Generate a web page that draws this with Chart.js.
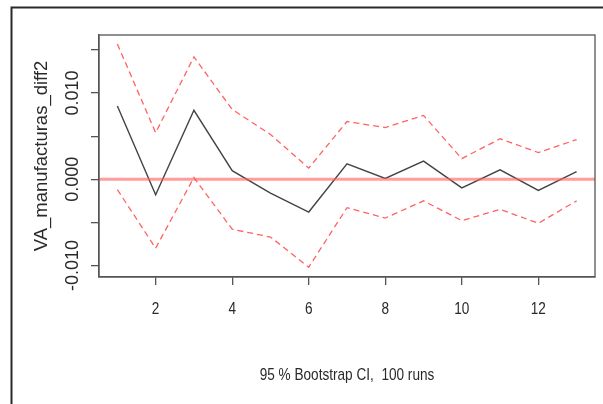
<!DOCTYPE html>
<html>
<head>
<meta charset="utf-8">
<script src="https://cdn.jsdelivr.net/npm/chart.js@4/dist/chart.umd.min.js"></script>
<style>
  html, body { margin: 0; padding: 0; background: #fff; }
  canvas { display: block; }
</style>
</head>
<body>
<canvas id="bootChart" width="603" height="404"></canvas>
<script>
// datos
const steps = [1, 2, 3, 4, 5, 6, 7, 8, 9, 10, 11, 12, 13];
const estimate = [0.0085, -0.0018, 0.0080, 0.0010, -0.0016, -0.0038, 0.0018, 0.0001, 0.0021, -0.0010, 0.0011, -0.0013, 0.0009];
const upperCI = [0.0157, 0.0054, 0.0142, 0.0081, 0.0052, 0.0013, 0.0067, 0.0060, 0.0074, 0.0024, 0.0047, 0.0031, 0.0046];
const lowerCI = [-0.0012, -0.0080, 0.0002, -0.0058, -0.0067, -0.0102, -0.0033, -0.0045, -0.0025, -0.0048, -0.0035, -0.0051, -0.0025];
const zeroLine = 0;

const xTicks = [2, 4, 6, 8, 10, 12];
const yTicks = [-0.010, -0.005, 0.000, 0.005, 0.010, 0.015];
const yTickLabels = ['-0.010', '', '0.000', '', '0.010', ''];

const yTitle = 'VA_manufacturas_diff2';
const xTitle = '95 % Bootstrap CI,  100 runs';

const toPoints = vals => vals.map((v, i) => ({ x: steps[i], y: v }));

// texto horizontal algo comprimido, como en la imagen original
function narrowText(ctx, txt, x, y) {
  ctx.save();
  ctx.translate(x, y);
  ctx.scale(0.8, 1);
  ctx.fillText(txt, 0, 0);
  ctx.restore();
}

// Plugin para marco, linea cero y textos de los ejes
const rPlot = {
  id: 'rPlot',
  beforeDraw(chart) {
    const ctx = chart.ctx;
    ctx.save();
    ctx.strokeStyle = '#2a2a2a';
    ctx.lineWidth = 2;
    ctx.beginPath();
    ctx.moveTo(11.5, 404);
    ctx.lineTo(11.5, 7.5);
    ctx.lineTo(603, 7.5);
    ctx.stroke();
    ctx.restore();
  },
  afterDatasetsDraw(chart) {
    const { ctx, chartArea: a, scales: { x, y } } = chart;
    ctx.save();
    // linea horizontal en cero
    const y0 = y.getPixelForValue(zeroLine);
    ctx.strokeStyle = 'rgba(255, 90, 90, 0.6)';
    ctx.lineWidth = 3;
    ctx.beginPath();
    ctx.moveTo(a.left, y0);
    ctx.lineTo(a.right, y0);
    ctx.stroke();
    // caja del grafico
    ctx.strokeStyle = '#555';
    ctx.lineWidth = 1.3;
    ctx.strokeRect(a.left, a.top, a.right - a.left, a.bottom - a.top);

    ctx.fillStyle = '#2a2a2a';
    ctx.textAlign = 'center';
    ctx.textBaseline = 'middle';
    // etiquetas del eje x
    ctx.font = '17px "Liberation Sans", Arial, sans-serif';
    xTicks.forEach(v => narrowText(ctx, String(v), x.getPixelForValue(v), 309));
    ctx.font = '17px "Liberation Sans", Arial, sans-serif';
    narrowText(ctx, xTitle, (a.left + a.right) / 2, 375);

    // etiquetas del eje y (rotadas)
    ctx.font = '18px "Liberation Sans", Arial, sans-serif';
    yTicks.forEach((v, i) => {
      if (!yTickLabels[i]) return;
      ctx.save();
      ctx.translate(73, y.getPixelForValue(v));
      ctx.rotate(-Math.PI / 2);
      ctx.fillText(yTickLabels[i], 0, 0);
      ctx.restore();
    });
    ctx.font = '18.5px "Liberation Sans", Arial, sans-serif';
    ctx.save();
    ctx.translate(42, (a.top + a.bottom) / 2);
    ctx.rotate(-Math.PI / 2);
    ctx.fillText(yTitle, 0, 0);
    ctx.restore();
    ctx.restore();
  }
};

new Chart(document.getElementById('bootChart'), {
  type: 'line',
  data: {
    datasets: [
      {
        label: 'upper',
        data: toPoints(upperCI),
        borderColor: 'rgba(255, 70, 70, 0.85)',
        borderDash: [6, 4],
        borderWidth: 1.3,
        pointRadius: 0,
        tension: 0
      },
      {
        label: 'lower',
        data: toPoints(lowerCI),
        borderColor: 'rgba(255, 70, 70, 0.85)',
        borderDash: [6, 4],
        borderWidth: 1.3,
        pointRadius: 0,
        tension: 0
      },
      {
        label: 'estimate',
        data: toPoints(estimate),
        borderColor: '#444',
        borderWidth: 1.4,
        pointRadius: 0,
        tension: 0
      }
    ]
  },
  options: {
    responsive: false,
    devicePixelRatio: 1,
    animation: false,
    layout: { padding: { top: 35, right: 8, left: 0, bottom: 0 } },
    plugins: {
      legend: { display: false },
      tooltip: { enabled: false }
    },
    scales: {
      x: {
        type: 'linear',
        min: 0.52,
        max: 13.48,
        afterBuildTicks: s => { s.ticks = xTicks.map(v => ({ value: v })); },
        afterFit: s => { s.height = 127; },
        grid: { drawOnChartArea: false, drawTicks: true, tickLength: 8, color: '#555', lineWidth: 1.3 },
        border: { display: true, color: '#555', width: 1.3 },
        ticks: { display: false }
      },
      y: {
        min: -0.01134,
        max: 0.01674,
        afterBuildTicks: s => { s.ticks = yTicks.map(v => ({ value: v })); },
        afterFit: s => { s.width = 99; },
        grid: { drawOnChartArea: false, drawTicks: true, tickLength: 8, color: '#555', lineWidth: 1.3 },
        border: { display: true, color: '#555', width: 1.3 },
        ticks: { display: false }
      }
    }
  },
  plugins: [rPlot]
});
</script>
</body>
</html>
